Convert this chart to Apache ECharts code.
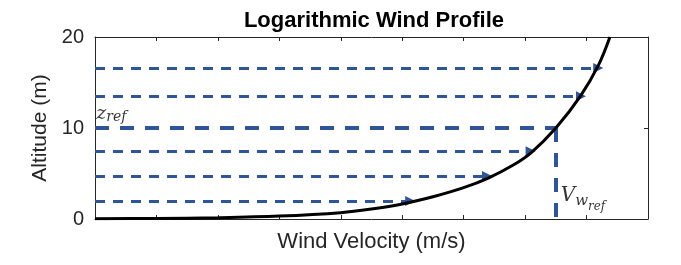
<!DOCTYPE html>
<html>
<head>
<meta charset="utf-8">
<script src="https://cdn.jsdelivr.net/npm/echarts@6/dist/echarts.min.js"></script>
<style>html,body{margin:0;padding:0;background:#fff;}#c{width:681px;height:265px;}</style>
</head>
<body>
<div id="c"></div>
<script>
// Data
const curveV = [0, 1, 2, 3, 4, 4.5, 5, 5.5, 6, 6.4, 6.8, 7.1, 7.5, 7.9, 8.2, 8.38];
const curveZ = [0.03, 0.06, 0.14, 0.32, 0.7, 1.1, 1.65, 2.45, 3.45, 4.5, 5.9, 7.3, 10, 13.5, 17.0, 20];
const arrowZ = [1.98, 4.72, 7.44, 13.5, 16.6];
const arrowEndV = [5.13, 6.38, 7.09, 7.91, 8.19];
const refV = 7.5;
const refZ = 10;
const yTicks = [0, 10, 20];

const BLUE = '#2F5597';
const AX = '#262626';
const FONT = '"Liberation Sans", Arial, Helvetica, sans-serif';
const SERIF = '"DejaVu Serif", "Liberation Serif", serif';

const chart = echarts.init(document.getElementById('c'), null, {renderer: 'canvas'});

const curveData = curveV.map((v, i) => [v, curveZ[i]]);
const arrowData = arrowZ.map((z, i) => ({coords: [[0, z], [arrowEndV[i], z]]}));
const refData = [
  {coords: [[0, refZ], [refV, refZ]]},
  {coords: [[refV, refZ], [refV, 0]]}
];

const axisCommon = {
  min: 0,
  axisLine: {show: true, onZero: false, lineStyle: {color: AX, width: 1}},
  axisTick: {show: true, inside: true, length: 4, lineStyle: {color: AX}},
  splitLine: {show: false}
};

chart.setOption({
  animation: false,
  title: {
    text: 'Logarithmic Wind Profile',
    left: 369, top: 5, textAlign: 'center',
    textStyle: {fontFamily: FONT, fontSize: 22, fontWeight: 'bold', color: '#000'}
  },
  grid: {left: 95, right: 33, top: 37, bottom: 46, containLabel: false},
  xAxis: [
    Object.assign({}, axisCommon, {
      type: 'value', max: 9, interval: 1, position: 'bottom',
      axisLabel: {show: false},
      name: 'Wind Velocity (m/s)', nameLocation: 'middle', nameGap: 12,
      nameTextStyle: {fontFamily: FONT, fontSize: 22, color: AX, verticalAlign: 'top'}
    }),
    Object.assign({}, axisCommon, {
      type: 'value', max: 9, interval: 1, position: 'top',
      axisLabel: {show: false}
    })
  ],
  yAxis: [
    Object.assign({}, axisCommon, {
      type: 'value', max: 20, interval: 10, position: 'left',
      axisLabel: {show: true, fontFamily: FONT, fontSize: 20, color: AX, margin: 11,
        formatter: v => yTicks.includes(v) ? String(v) : ''},
      name: 'Altitude (m)', nameLocation: 'middle', nameGap: 37, nameRotate: 90,
      nameTextStyle: {fontFamily: FONT, fontSize: 21, color: AX}
    }),
    Object.assign({}, axisCommon, {
      type: 'value', max: 20, interval: 10, position: 'right',
      axisLabel: {show: false}
    })
  ],
  series: [
    {
      type: 'lines', coordinateSystem: 'cartesian2d', xAxisIndex: 0, yAxisIndex: 0,
      polyline: false, silent: true,
      symbol: ['none', 'triangle'], symbolSize: 10,
      lineStyle: {color: BLUE, width: 3, type: [10, 8], opacity: 1},
      data: arrowData, z: 2
    },
    {
      type: 'lines', coordinateSystem: 'cartesian2d', xAxisIndex: 0, yAxisIndex: 0,
      silent: true, symbol: ['none', 'none'],
      lineStyle: {color: BLUE, width: 4, type: [14, 11], opacity: 1},
      data: refData, z: 2
    },
    {
      type: 'line', xAxisIndex: 0, yAxisIndex: 0,
      data: curveData, smooth: 0.35, showSymbol: false, symbol: 'none',
      lineStyle: {color: '#000', width: 3}, z: 3, clip: true
    },
    {
      type: 'scatter', xAxisIndex: 0, yAxisIndex: 0, symbolSize: 0, silent: true, z: 4,
      data: [
        {value: [0.02, 11.5], label: {show: true, position: 'right', distance: 0,
          formatter: '{m|z}{s|ref}',
          rich: {
            m: {fontFamily: SERIF, fontStyle: 'italic', fontSize: 19, color: '#000', verticalAlign: 'top', padding: [0, 0, 0, 0]},
            s: {fontFamily: SERIF, fontStyle: 'italic', fontSize: 14, color: '#000', verticalAlign: 'top', padding: [6, 0, 0, 0]}
          }}},
        {value: [refV + 0.08, 2.2], label: {show: true, position: 'right', distance: 0,
          formatter: '{m|V}{s|w}{t|ref}',
          rich: {
            m: {fontFamily: SERIF, fontStyle: 'italic', fontSize: 20, color: '#000', verticalAlign: 'top', padding: [0, 0, 0, 0]},
            s: {fontFamily: SERIF, fontStyle: 'italic', fontSize: 15, color: '#000', verticalAlign: 'top', padding: [8, 0, 0, 0]},
            t: {fontFamily: SERIF, fontStyle: 'italic', fontSize: 12, color: '#000', verticalAlign: 'top', padding: [15, 0, 0, 0]}
          }}}
      ]
    }
  ]
});
</script>
</body>
</html>
